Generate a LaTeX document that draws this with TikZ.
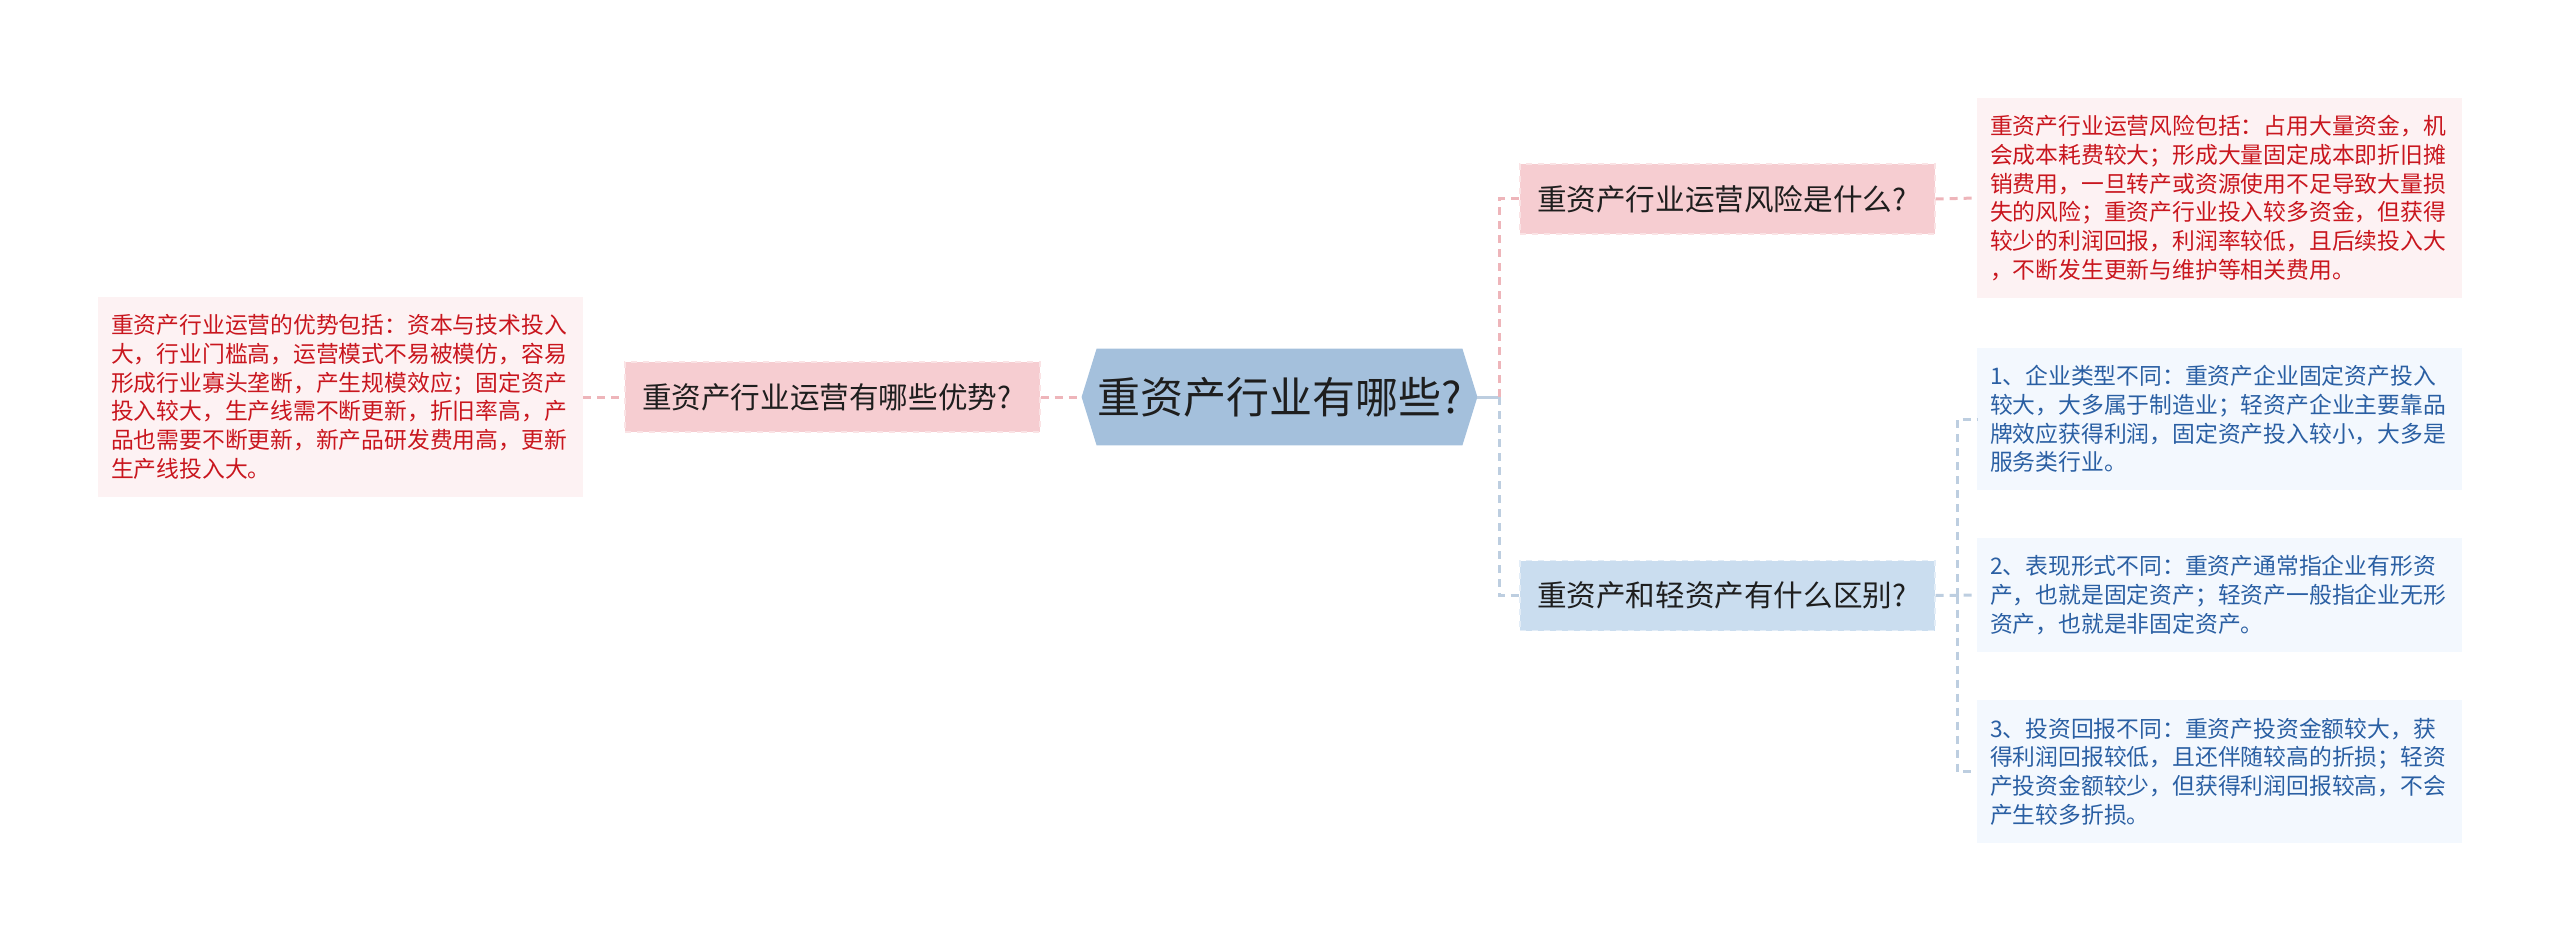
\documentclass[tikz,border=0pt]{standalone}
\usepackage{fontspec}
\newfontfamily\cjk{Noto Sans CJK SC}
\definecolor{hexfill}{HTML}{A4C0DC}
\definecolor{pinkfill}{HTML}{F6CDD1}
\definecolor{pinkbord}{HTML}{FAE3E5}
\definecolor{bluefill}{HTML}{CADDEF}
\definecolor{bluebord}{HTML}{E3EDF7}
\definecolor{pinkleaf}{HTML}{FDF2F3}
\definecolor{blueleaf}{HTML}{F3F8FE}
\definecolor{redtext}{HTML}{C9161E}
\definecolor{bluetext}{HTML}{2A5FA3}
\definecolor{pinkline}{HTML}{EEB5BA}
\definecolor{blueline}{HTML}{BDCEE0}
\definecolor{darktext}{HTML}{1E1E1E}
\tikzset{
  lvone/.style={inner xsep=8.5pt, inner ysep=0pt, minimum height=35pt, text width=190.5pt, align=left,
    font=\cjk\fontsize{14.8pt}{17pt}\selectfont, text=darktext, dashed, line width=0.6pt},
  pinkone/.style={lvone, fill=pinkfill, draw=pinkbord},
  blueone/.style={lvone, fill=bluefill, draw=bluebord},
  leafbox/.style={inner xsep=6.5pt, inner ysep=0pt, text width=229.5pt, align=left,
    font=\cjk\fontsize{11.4pt}{14.35pt}\selectfont},
  pinkleafbox/.style={leafbox, fill=pinkleaf, text=redtext},
  blueleafbox/.style={leafbox, fill=blueleaf, text=bluetext},
  pinkconn/.style={draw=pinkline, line width=1.5pt, dash pattern=on 4pt off 3pt},
  blueconn/.style={draw=blueline, line width=1.5pt, dash pattern=on 4pt off 3pt},
}
\begin{document}
\begin{tikzpicture}[x=1pt,y=1pt]
\useasboundingbox (0,0) rectangle (1280,-470.5);
% central hexagon
\node[inner sep=0pt, minimum width=197.5pt, minimum height=48pt] (c) at (639.75,-198.5) {};
\fill[hexfill] (c.west) -- ([xshift=7.5pt]c.north west) -- ([xshift=-7.5pt]c.north east) -- (c.east)
  -- ([xshift=-7.5pt]c.south east) -- ([xshift=7.5pt]c.south west) -- cycle;
\node[font=\cjk\fontsize{21.5pt}{24pt}\selectfont, text=darktext, inner sep=0pt] (ct) at (c.center) {重资产行业有哪些?};
% level one
\node[pinkone] (la) at (416.25,-198.5) {重资产行业运营有哪些优势?};
\node[pinkone] (ra) at (863.75,-99.5) {重资产行业运营风险是什么?};
\node[blueone] (rb) at (863.75,-297.75) {重资产和轻资产有什么区别?};
% leaves
\node[pinkleafbox, minimum height=100pt] (lal) at (170.25,-198.5) {重资产行业运营的优势包括：资本与技术投入\\大，行业门槛高，运营模式不易被模仿，容易\\形成行业寡头垄断，产生规模效应；固定资产\\投入较大，生产线需不断更新，折旧率高，产\\品也需要不断更新，新产品研发费用高，更新\\生产线投入大。};
\node[pinkleafbox, minimum height=100pt] (ral) at (1109.75,-99) {重资产行业运营风险包括：占用大量资金，机\\会成本耗费较大；形成大量固定成本即折旧摊\\销费用，一旦转产或资源使用不足导致大量损\\失的风险；重资产行业投入较多资金，但获得\\较少的利润回报，利润率较低，且后续投入大\\，不断发生更新与维护等相关费用。};
\node[blueleafbox, minimum height=71pt] (rb1) at (1109.75,-209.5) {1、企业类型不同：重资产企业固定资产投入\\较大，大多属于制造业；轻资产企业主要靠品\\牌效应获得利润，固定资产投入较小，大多是\\服务类行业。};
\node[blueleafbox, minimum height=57pt] (rb2) at (1109.75,-297.5) {2、表现形式不同：重资产通常指企业有形资\\产，也就是固定资产；轻资产一般指企业无形\\资产，也就是非固定资产。};
\node[blueleafbox, minimum height=71.5pt] (rb3) at (1109.75,-385.75) {3、投资回报不同：重资产投资金额较大，获\\得利润回报较低，且还伴随较高的折损；轻资\\产投资金额较少，但获得利润回报较高，不会\\产生较多折损。};
% junctions
\coordinate (j1) at (749.5,-198.5);
\coordinate (j2) at (978.5,-297.75);
% connectors
\draw[pinkconn] (la.east) -- (c.west);
\draw[pinkconn] (lal.east) -- (la.west);
\draw[blueline, line width=1.5pt] (c.east) -- (j1);
\draw[pinkconn] (j1) |- (ra.west);
\draw[blueconn] (j1) |- (rb.west);
\draw[pinkconn] (ra.east) -- (ral.west);
\draw[blueconn] (rb.east) -- (rb2.west);
\draw[blueconn] (j2) |- (rb1.west);
\draw[blueconn] (j2) |- (rb3.west);
\end{tikzpicture}
\end{document}
